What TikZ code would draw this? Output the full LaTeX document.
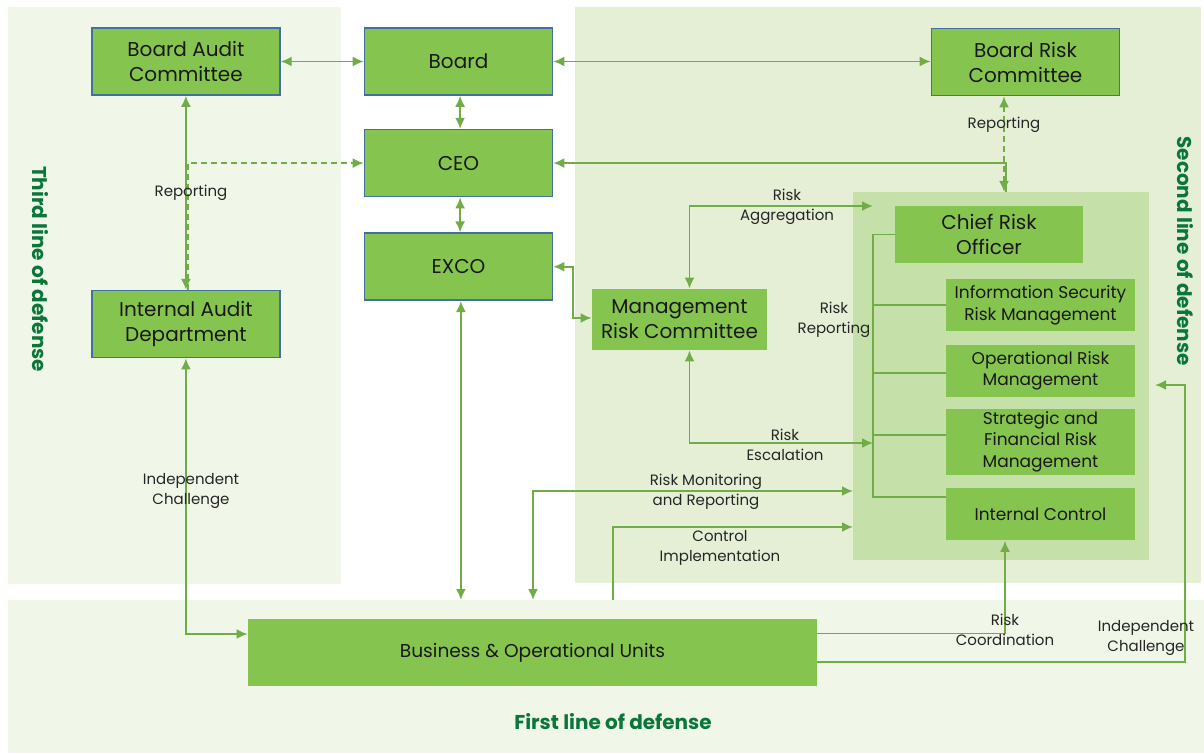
\documentclass[tikz,border=0pt]{standalone}
\usepackage{fontspec}
\setmainfont{Poppins}
\usetikzlibrary{positioning, calc, arrows.meta}

\definecolor{boxgreen}{RGB}{134,196,80}
\definecolor{boxedge}{RGB}{65,113,156}
\definecolor{linegreen}{RGB}{112,173,71}
\definecolor{zonelight}{RGB}{240,246,232}
\definecolor{zonemid}{RGB}{229,239,214}
\definecolor{zonedark}{RGB}{197,224,168}
\definecolor{titlegreen}{RGB}{10,118,58}
\definecolor{labeltext}{RGB}{38,38,38}

\begin{document}
\begin{tikzpicture}[
  x=0.5pt, y=-0.5pt,
  >=Latex,
  zone/.style={rectangle, inner sep=0pt, outer sep=0pt, fill=#1},
  box/.style={rectangle, fill=boxgreen, draw=boxedge, line width=0.8pt, minimum width=94pt, minimum height=33.5pt, align=center, inner sep=1pt, text=black!90, font=\fontsize{10}{12.5}\selectfont},
  subbox/.style={rectangle, fill=boxgreen, minimum width=94.5pt, minimum height=26pt, align=center, inner sep=1pt, text=black!90, font=\fontsize{8.5}{10.8}\selectfont},
  line/.style={draw=linegreen, line width=0.95pt},
  arrow/.style={line, -{Latex[length=5.5pt, width=5pt]}},
  arrowboth/.style={line, {Latex[length=5.5pt, width=5pt]}-{Latex[length=5.5pt, width=5pt]}},
  dasharrow/.style={arrow, dash pattern=on 3pt off 2pt},
  dasharrowboth/.style={arrowboth, dash pattern=on 3pt off 2pt},
  lbl/.style={align=center, inner sep=0pt, text=labeltext, font=\fontsize{7.5}{10}\selectfont},
  zonetitle/.style={text=titlegreen, font=\fontsize{10}{12}\selectfont\bfseries}
]
\useasboundingbox (0,0) rectangle (1204,754);

%--------------------------------------
% Lines of defense
%--------------------------------------
\node[zone=zonelight, minimum width=166.5pt, minimum height=288.5pt] (thirdzone) at (174.5,295.5) {};
\node[zone=zonemid, minimum width=313pt, minimum height=288pt] (secondzone) at (888,295) {};
\node[zone=zonelight, minimum width=598pt, minimum height=76.5pt] (firstzone) at (606,676.5) {};
\node[zone=zonedark, minimum width=148pt, minimum height=184pt] (crozone) at (1001,376) {};

\node[zonetitle, rotate=-90] (thirdtitle) at (40,269) {Third line of defense};
\node[zonetitle, rotate=-90] (secondtitle) at (1185,251) {Second line of defense};
\node[zonetitle] (firsttitle) at (613,722) {First line of defense};

%--------------------------------------
% Board level
%--------------------------------------
\node[box] (board) at (458.5,61.5) {Board};
\node[box, left=41.5pt of board] (bac) {Board Audit\\Committee};
\node[box] (brc) at (1025.5,62) {Board Risk\\Committee};
\node[box, below=16.5pt of board] (ceo) {CEO};
\node[box, below=17.5pt of ceo] (exco) {EXCO};
\node[box, below=97pt of bac] (iad) {Internal Audit\\Department};

%--------------------------------------
% Risk function
%--------------------------------------
\node[subbox, minimum width=87.5pt, minimum height=30.5pt, font=\fontsize{10}{12.5}\selectfont] (mrc) at (679.5,319.5) {Management\\Risk Committee};
\node[subbox, minimum width=94pt, minimum height=28.5pt, font=\fontsize{10}{12.5}\selectfont] (cro) at (989,234.5) {Chief Risk\\Officer};
\node[subbox] (isrm) at (1040.5,305) {Information Security\\Risk Management};
\node[subbox, below=6.5pt of isrm] (orm) {Operational Risk\\Management};
\node[subbox, minimum height=33pt, below=5.5pt of orm] (sfrm) {Strategic and\\Financial Risk\\Management};
\node[subbox, below=6.5pt of sfrm] (ic) {Internal Control};

%--------------------------------------
% Business units
%--------------------------------------
\node[subbox, minimum width=284.5pt, minimum height=33.5pt, font=\fontsize{9.3}{11}\selectfont] (bou) at (532.5,652.5) {Business \& Operational Units};

% helper points
\coordinate (busend) at (873,497);
\coordinate (aggr) at (873,206);
\coordinate (escl) at (873,443);
\coordinate (brcrep) at (1004,0);
\coordinate (monit) at (533,491);
\coordinate (ctrl) at (613,527);
\coordinate (coord) at (1005,0);
\coordinate (challR) at (1185,385);
\coordinate (challT) at (1155,385);

%--------------------------------------
% Connections
%--------------------------------------
\draw[arrowboth] (bac) -- (board);
\draw[arrowboth] (board.east) -- (board.east -| brc.west);
\draw[arrowboth] ([xshift=0.8pt]board.south) -- ([xshift=0.8pt]ceo.north);
\draw[arrowboth] ([xshift=0.8pt]ceo.south) -- ([xshift=0.8pt]exco.north);
\draw[arrowboth] (bac) -- (iad);
\draw[dasharrow] ([xshift=1pt]iad.north) |- (ceo.west);

\draw[dasharrowboth] (brc.south -| brcrep) -- (crozone.north -| brcrep);
\draw[arrow] ([xshift=0.8pt]crozone.north -| brcrep) |- (ceo.east);

\draw[arrowboth] (exco.east) -- ++(20,0) |- ([yshift=0.75pt]mrc.west);
\draw[arrowboth] ([xshift=1.2pt]exco.south) -- ([xshift=1.2pt]exco.south |- firstzone.north);

\draw[arrowboth] ([xshift=5pt]mrc.north) |- (aggr);
\draw[arrowboth] ([xshift=5pt]mrc.south) |- (escl);

\draw[line] (cro.west) -| (busend) -- (busend -| ic.west);
\draw[line] (isrm.west -| busend) -- (isrm.west);
\draw[line] ([yshift=-1pt]orm.west -| busend) -- ([yshift=-1pt]orm.west);
\draw[line] ([yshift=3.5pt]sfrm.west -| busend) -- ([yshift=3.5pt]sfrm.west);

\draw[arrowboth] (firstzone.north -| monit) |- (crozone.west |- monit);
\draw[arrow] (firstzone.north -| ctrl) |- (crozone.west |- ctrl);
\draw[arrow] ([yshift=9.5pt]bou.east) -| (ic.south -| coord);
\draw[arrow] ([yshift=-4.75pt]bou.east) -| (challR) -- (challT);
\draw[arrowboth] (iad.south) |- ([yshift=9.25pt]bou.west);

%--------------------------------------
% Labels
%--------------------------------------
\node[lbl] (auditrep) at (191,193) {Reporting};
\node[lbl] (riskrep) at (1004,125) {Reporting};
\node[lbl] (aggrlbl) at (787,207) {Risk\\Aggregation};
\node[lbl] (reportlbl) at (834,320) {Risk\\Reporting};
\node[lbl] (escllbl) at (785,445) {Risk\\Escalation};
\node[lbl] (monitlbl) at (706,492) {Risk Monitoring\\and Reporting};
\node[lbl] (ctrllbl) at (720,548) {Control\\Implementation};
\node[lbl] (coordlbl) at (1005,630) {Risk\\Coordination};
\node[lbl] (challlbl) at (1146,638) {Independent\\Challenge};
\node[lbl] (indeplbl) at (191,491) {Independent\\Challenge};

\end{tikzpicture}
\end{document}
